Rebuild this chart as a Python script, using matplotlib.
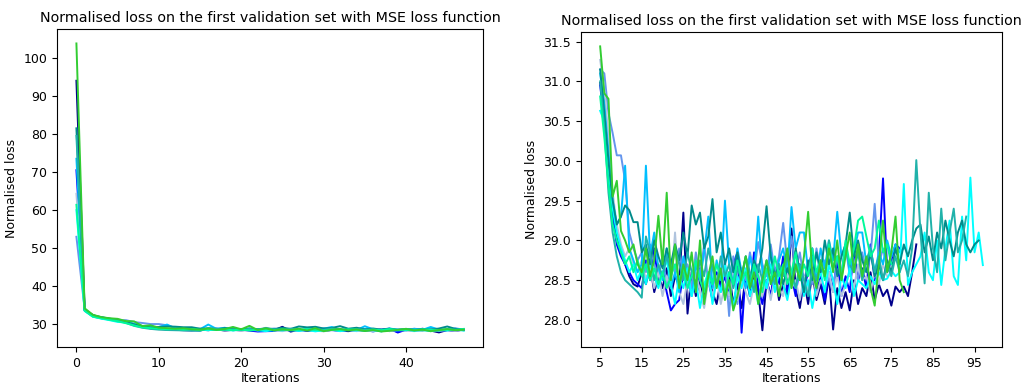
import matplotlib
matplotlib.use("Agg")
import matplotlib.pyplot as plt

title = "Normalised loss on the first validation set with MSE loss function"

# loss per iteration for each run (index = iteration)
navy = [94.0, 33.9, 32.4, 31.7, 31.3, 30.98, 30.75, 30.2, 29.4, 29.05,
        28.85, 28.7, 28.55, 28.45, 28.42, 28.6, 28.45, 28.7, 28.35, 28.55,
        28.4, 28.65, 28.3, 28.55, 28.45, 29.35, 28.08, 28.6, 28.3, 28.5,
        28.25, 28.55, 28.35, 28.2, 28.5, 28.3, 28.6, 28.2, 28.45, 28.15,
        28.55, 28.3, 28.6, 28.35, 27.87, 28.5, 28.3, 28.6, 28.25, 28.45,
        28.3, 29.15, 28.4, 28.15, 28.5, 28.2, 28.6, 28.25, 28.45, 28.2,
        28.55, 27.88, 28.4, 28.15, 28.35, 28.12, 28.5, 28.2, 28.4, 28.3,
        28.6, 28.25, 28.45, 28.3, 28.38, 28.18, 28.42, 28.35, 28.42, 28.3,
        28.6, 28.95]
blue = [70.5, 33.6, 32.1, 31.6, 31.3, 30.95, 30.5, 29.9, 29.3, 28.95,
        28.8, 28.7, 28.6, 28.5, 28.45, 28.4, 28.75, 28.5, 28.9, 28.45,
        28.6, 28.35, 28.12, 28.2, 28.25, 28.6, 28.4, 28.55, 28.35, 28.65,
        28.3, 28.5, 28.25, 28.6, 28.4, 28.55, 28.3, 28.7, 28.85, 27.84,
        28.6, 28.35, 28.85, 28.4, 28.2, 28.5, 28.3, 28.65, 28.45, 28.8,
        28.35, 28.55, 28.3, 28.7, 28.4, 28.6, 28.9, 28.35, 28.55, 28.25,
        28.6, 28.4, 28.75, 28.3, 28.55, 28.35, 28.9, 28.5, 28.65, 28.4,
        28.95, 28.5, 28.8, 29.78, 28.6, 28.75, 28.95, 28.9]
cornflower = [53.0, 34.0, 32.3, 31.8, 31.5, 31.15, 31.1, 30.6, 30.35, 30.07,
              30.07, 29.75, 29.1, 28.9, 28.75, 28.85, 28.6, 28.95, 28.7, 28.55,
              28.8, 28.45, 28.75, 28.6, 28.9, 28.5, 28.7, 28.4, 28.85, 28.55,
              28.95, 28.45, 28.7, 28.5, 28.35, 28.75, 28.05, 28.8, 28.2, 28.65,
              28.5, 28.85, 28.6, 28.98, 28.7, 28.55, 28.95, 28.6, 28.8, 29.22,
              28.7, 29.05, 28.6, 28.85, 28.5, 28.7, 28.45, 28.9, 28.6, 28.75,
              28.5, 28.35, 28.8, 28.6, 28.95, 28.55, 28.7, 28.5, 28.85, 28.6,
              28.8, 29.46, 28.7, 28.9, 28.65, 28.8]
steel = [64.3, 34.1, 32.2, 31.7, 31.4, 31.27, 30.9, 30.3, 29.6, 29.2,
         28.95, 28.8, 28.9, 28.7, 28.6, 28.75, 28.5, 28.65, 28.4, 28.6,
         28.3, 28.55, 28.4, 29.1, 28.35, 28.2, 28.5, 28.3, 28.6, 28.35,
         28.15, 28.5, 28.3, 28.55, 28.2, 28.45, 28.3, 28.6, 28.25, 28.5,
         28.35, 28.2, 28.45, 28.6, 28.3, 28.5, 28.25, 28.55, 28.4, 28.3,
         28.6, 28.4, 28.5, 28.25, 28.55, 28.35, 28.65, 28.3, 28.5, 28.4,
         28.6, 28.35, 28.55, 28.3, 28.45, 28.6, 28.4, 28.7, 28.5, 28.55,
         28.35, 28.6, 28.45, 28.7, 28.55]
skyblue = [73.5, 33.8, 32.2, 31.8, 31.4, 31.1, 30.7, 30.1, 29.5, 29.2,
           29.3, 29.94, 28.9, 28.75, 28.6, 28.7, 29.94, 28.8, 29.1, 28.65,
           28.5, 28.9, 28.4, 28.6, 28.35, 28.8, 28.55, 28.3, 28.7, 28.5,
           28.85, 29.3, 28.4, 28.75, 28.5, 29.5, 28.7, 28.45, 28.9, 28.6,
           28.4, 28.8, 28.55, 29.3, 28.6, 28.4, 28.85, 28.5, 28.75, 28.9,
           28.6, 29.42, 28.9, 29.1, 29.1, 28.6, 28.8, 28.5, 28.9, 28.65,
           29.0, 28.75, 29.36, 28.8, 28.95, 28.6, 28.85, 29.1, 29.1, 28.7,
           28.9, 28.6, 28.85, 28.7, 29.0, 28.8, 28.95, 28.85, 28.9]
cyan = [60.0, 33.5, 32.0, 31.5, 31.1, 30.63, 30.5, 29.9, 29.4, 29.1,
        28.9, 28.75, 28.6, 28.7, 28.5, 28.65, 28.45, 28.7, 28.55, 28.4,
        28.6, 28.75, 28.45, 28.2, 28.55, 28.4, 28.65, 28.3, 28.5, 28.15,
        28.45, 28.6, 28.2, 28.5, 28.35, 28.7, 28.45, 28.15, 28.55, 28.4,
        28.65, 28.3, 28.5, 28.2, 28.55, 28.4, 28.7, 28.35, 28.6, 28.45,
        28.25, 28.55, 28.4, 28.65, 28.3, 28.5, 28.15, 28.45, 28.6, 28.35,
        28.7, 28.5, 28.2, 28.55, 28.4, 28.65, 28.3, 28.5, 28.45, 28.4,
        28.55, 28.45, 28.6, 28.5, 28.52, 28.62, 28.55, 28.6, 29.71, 28.44,
        28.6, 28.7, 28.8, 29.1, 28.6, 28.5, 29.0, 28.44, 28.9, 29.25,
        28.55, 28.44, 29.3, 28.75, 29.79, 28.85, 29.1, 28.69]
darkcyan = [81.5, 33.7, 32.4, 31.9, 31.5, 31.15, 30.6, 30.0, 29.5, 29.2,
            29.3, 29.44, 29.38, 29.23, 29.23, 28.85, 28.95, 28.7, 29.0, 28.8,
            28.65, 28.9, 28.7, 28.95, 28.75, 29.1, 28.8, 29.44, 29.2, 29.35,
            28.9, 29.05, 29.52, 28.85, 29.1, 28.7, 28.9, 28.6, 28.85, 28.55,
            28.8, 28.5, 28.75, 28.6, 28.9, 29.43, 28.8, 28.55, 28.7, 28.45,
            28.65, 28.5, 28.9, 28.6, 28.35, 28.75, 28.5, 28.85, 28.6, 29.0,
            28.7, 28.9, 28.55, 28.8, 28.95, 29.35, 28.8, 29.0, 28.75, 28.6,
            28.85, 28.55, 28.7, 28.5, 28.75, 28.6, 28.9, 28.7, 28.95, 28.8,
            29.0, 29.15, 29.2, 28.85, 29.05, 28.75, 29.1, 28.9, 29.25, 29.0,
            28.8, 29.1, 29.25, 28.95, 28.85, 28.95, 29.0]
seagreen = [79.5, 33.8, 32.3, 31.8, 31.4, 31.0, 30.4, 29.6, 29.1, 28.8,
            28.6, 28.5, 28.45, 28.4, 28.35, 28.28, 29.05, 28.85, 28.5, 28.7,
            28.55, 28.8, 28.6, 28.9, 28.7, 28.5, 28.85, 28.6, 28.45, 28.75,
            28.55, 28.9, 28.65, 28.45, 28.8, 28.55, 28.7, 28.4, 28.65, 28.5,
            28.8, 28.6, 28.35, 28.7, 28.5, 28.75, 28.6, 28.45, 28.7, 28.55,
            28.8, 28.6, 28.4, 28.7, 28.5, 28.3, 28.65, 28.5, 28.75, 28.55,
            29.0, 28.65, 28.8, 28.5, 28.9, 28.7, 28.6, 28.85, 28.5, 28.75,
            28.9, 28.6, 28.8, 28.5, 28.7, 28.55, 28.8, 28.6, 28.75, 28.55,
            28.9, 30.01, 29.1, 28.46, 29.6, 28.9, 28.6, 29.4, 28.75, 29.1,
            29.4, 28.85, 29.0, 29.3]
spring = [61.4, 33.6, 32.0, 31.6, 31.2, 30.81, 30.3, 29.7, 29.2, 29.0,
          28.85, 28.7, 28.8, 28.6, 28.75, 28.55, 28.7, 28.5, 28.65, 28.45,
          28.6, 28.4, 28.55, 28.7, 28.5, 28.65, 28.4, 28.55, 28.75, 28.5,
          28.35, 28.6, 28.45, 28.7, 28.55, 28.3, 28.6, 28.45, 28.75, 28.5,
          28.6, 28.4, 28.7, 28.55, 28.35, 28.65, 28.5, 28.8, 28.55, 28.7,
          28.45, 28.6, 28.85, 28.5, 28.7, 28.55, 28.9, 28.6, 28.75, 28.5,
          28.95, 28.65, 28.8, 28.55, 29.0, 28.7, 28.9, 29.25, 29.3, 29.05,
          28.8, 28.9, 29.25, 28.85, 28.95, 28.7]
lime = [103.8, 34.2, 32.5, 31.9, 31.6, 31.44, 30.85, 30.78, 29.55, 29.75,
        29.12, 29.0, 28.85, 28.95, 28.7, 28.6, 28.9, 28.55, 28.75, 29.31,
        28.7, 29.6, 28.5, 28.95, 28.4, 28.7, 28.5, 28.85, 28.35, 29.0,
        28.2, 28.55, 28.8, 28.4, 28.65, 28.25, 28.5, 28.12, 28.3, 28.55,
        28.8, 28.4, 28.6, 28.2, 28.5, 28.75, 28.45, 28.6, 28.3, 28.65,
        28.9, 28.4, 28.7, 28.5, 28.8, 29.36, 28.6, 28.4, 28.75, 28.55,
        28.9, 28.6, 29.0, 28.5, 28.8, 29.1, 28.6, 28.95, 28.55, 28.8,
        28.4, 28.18, 28.7, 29.25, 28.6, 28.85, 29.3, 28.5, 28.35]

runs = [navy, blue, cornflower, steel, skyblue, cyan, darkcyan, seagreen, spring, lime]
colors = ['darkblue', 'blue', 'cornflowerblue', 'lightsteelblue', 'deepskyblue',
          'cyan', 'darkcyan', 'lightseagreen', 'mediumspringgreen', 'limegreen']

first_n = 48   # left plot: shared first iterations
start = 5      # right plot: skip the initial drop

fig = plt.figure(figsize=(10.26, 3.85), dpi=100)
ax1 = fig.add_axes([0.0556, 0.0987, 0.4152, 0.826])
ax2 = fig.add_axes([0.5663, 0.0987, 0.4103, 0.818])

for run, c in zip(runs, colors):
    ax1.plot(range(first_n), run[:first_n], color=c, lw=1.4)
    ax2.plot(range(start, len(run)), run[start:], color=c, lw=1.4)

for ax in (ax1, ax2):
    ax.set_title(title, fontsize=10.3, pad=5)
    ax.set_xlabel("Iterations", fontsize=9, labelpad=1.5)
    ax.set_ylabel("Normalised loss", fontsize=9)
    ax.tick_params(labelsize=9)

ax2.set_xticks(range(5, 100, 10))

fig.savefig("out.png", dpi=100)
